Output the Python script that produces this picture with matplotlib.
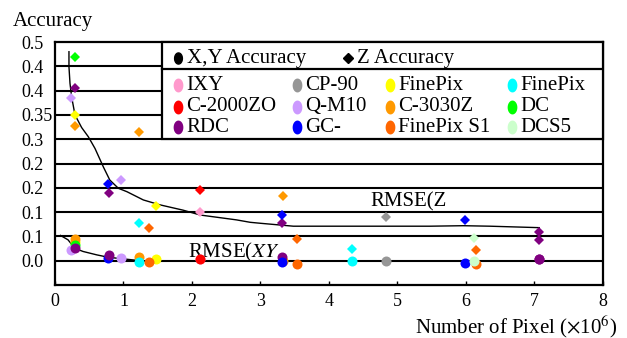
import matplotlib
matplotlib.use("Agg")
import matplotlib.pyplot as plt
import numpy as np
from matplotlib.path import Path
from matplotlib.patches import Rectangle

plt.rcParams['font.family'] = ['Liberation Serif', 'DejaVu Serif']
plt.rcParams['mathtext.fontset'] = 'stix'

# cameras shown in the legend
cam_names = ['IXY', 'CP-90', 'FinePix', 'FinePix', 'C-2000ZO', 'Q-M10',
             'C-3030Z', 'DC', 'RDC', 'GC-', 'FinePix S1', 'DCS5']
cam_colors = ['#FF99CC', '#969696', '#FFFF00', '#00FFFF', '#FF0000', '#CC99FF',
              '#FF9900', '#00FF00', '#800080', '#0000FF', '#FF6600', '#CCFFCC']

# one entry per camera measurement (drawing order matters for overlaps)
pt_cam = [2, 6, 7, 5, 8, 6, 9, 8, 5, 0, 4, 2, 3, 10, 6, 8, 9, 1, 10, 3, 9, 8, 8, 10, 11]
pt_pixels = [0.29, 0.29, 0.29, 0.23, 0.29, 1.23, 0.78, 0.79, 0.96, 2.11, 2.11, 1.48,
             1.23, 1.37, 3.33, 3.32, 3.32, 4.83, 3.54, 4.33, 5.99, 7.07, 7.07, 6.14, 6.11]
pt_xy_acc = [0.088, 0.094, 0.082, 0.072, 0.077, 0.057, 0.055, 0.062, 0.056, 0.053, 0.053, 0.053,
             0.047, 0.048, 0.050, 0.057, 0.047, 0.049, 0.043, 0.049, 0.046, 0.053, 0.053, 0.043, 0.049]
pt_z_acc = [0.349, 0.327, 0.469, 0.385, 0.406, 0.315, 0.208, 0.189, 0.217, 0.151, 0.195, 0.163,
            0.127, 0.118, 0.184, 0.127, 0.144, 0.139, 0.094, 0.075, 0.134, 0.110, 0.093, 0.073, 0.097]

# fitted RMSE curves
rmse_z_x = [0.204, 0.204, 0.219, 0.243, 0.292, 0.389, 0.487, 0.584, 0.706, 0.80, 0.925, 1.05,
            1.29, 1.53, 1.87, 2.12, 2.65, 2.85, 3.0, 3.48, 5.47, 5.96, 6.35, 7.07]
rmse_z_y = [0.48, 0.449, 0.415, 0.387, 0.35, 0.324, 0.305, 0.281, 0.243, 0.216, 0.199, 0.192,
            0.175, 0.165, 0.154, 0.144, 0.134, 0.129, 0.127, 0.121, 0.121, 0.122, 0.121, 0.118]
rmse_xy_x = [0.08, 0.19, 0.29, 0.41, 0.61, 0.78, 1.05, 1.24, 2.11, 3.3, 7.07]
rmse_xy_y = [0.102, 0.093, 0.0755, 0.069, 0.062, 0.057, 0.053, 0.050, 0.0495, 0.0495, 0.0495]

yticks = [0.05, 0.1, 0.15, 0.2, 0.25, 0.3, 0.35, 0.4, 0.45, 0.5]
ytick_labels = ['0.0', '0.1', '0.1', '0.2', '0.2', '0.3', '0.35', '0.4', '0.4', '0.5']

fig = plt.figure(figsize=(6.27, 3.38), dpi=100)
ax = fig.add_axes([0.0877, 0.1568, 0.8740, 0.7189])
ax.set_xlim(0, 8)
ax.set_ylim(0, 0.5)

ax.set_yticks(yticks)
ax.set_yticklabels(ytick_labels)
ax.set_xticks(range(9))
ax.tick_params(axis='y', length=0, pad=24.5, labelsize=13)
ax.tick_params(axis='x', direction='in', length=3, width=1, pad=6, labelsize=13)
for lab in ax.get_yticklabels():
    lab.set_ha('left')
for s in ax.spines.values():
    s.set_linewidth(1.6)
for y in yticks[:-1]:
    ax.axhline(y, color='black', lw=1.5, zorder=1)

ax.plot(rmse_z_x, rmse_z_y, color='black', lw=1.0, zorder=2)
ax.plot(rmse_xy_x, rmse_xy_y, color='black', lw=1.0, zorder=2)

for c, x, z in zip(pt_cam, pt_pixels, pt_z_acc):
    ax.plot(x, z, 'D', color=cam_colors[c], ms=5, mew=0, zorder=3)
for c, x, xy in zip(pt_cam, pt_pixels, pt_xy_acc):
    ax.plot(x, xy, 'o', color=cam_colors[c], ms=7.2, mew=0, zorder=4)

ax.text(4.6, 0.161, 'RMSE(Z', fontsize=15, zorder=2)
t = ax.text(1.94, 0.0556, r'RMSE($\mathit{XY}$', fontsize=15, zorder=2)
clip = Rectangle((0, 0.0617), 8, 0.5, transform=ax.transData, visible=False)
ax.add_patch(clip)
t.set_clip_path(clip)

# legend box drawn by hand
th = np.linspace(0, 2 * np.pi, 60)
ellipse = Path(np.column_stack([0.7 * np.cos(th), np.sin(th)]), closed=True)
x0, y_sep, y_bot = 0.195, 0.889, 0.602
ax.add_patch(Rectangle((x0, y_bot), 1 - x0, 1 - y_bot, transform=ax.transAxes,
                       facecolor='white', edgecolor='black', lw=1.6, zorder=6, clip_on=False))
ax.plot([x0, 1], [y_sep, y_sep], transform=ax.transAxes, color='black', lw=1.6, zorder=7)

ax.plot(0.2245, 0.934, marker=ellipse, color='black', ms=8, transform=ax.transAxes, zorder=8)
ax.text(0.241, 0.934, 'X,Y Accuracy', transform=ax.transAxes, fontsize=15, va='center', zorder=8)
ax.plot(0.535, 0.934, 'D', color='black', ms=5, transform=ax.transAxes, zorder=8)
ax.text(0.551, 0.934, 'Z Accuracy', transform=ax.transAxes, fontsize=15, va='center', zorder=8)

col_x = [0.2245, 0.441, 0.611, 0.834]
row_y = [0.823, 0.733, 0.650]
for i, (name, col) in enumerate(zip(cam_names, cam_colors)):
    cx = col_x[i % 4]
    cy = row_y[i // 4]
    ax.plot(cx, cy, marker=ellipse, color=col, ms=10, mew=0, transform=ax.transAxes, zorder=8)
    ax.text(cx + 0.015, cy, name, transform=ax.transAxes, fontsize=15, va='center', zorder=8)

fig.text(13 / 627, 1 - 26 / 338, 'Accuracy', fontsize=15, va='baseline')
fig.text(617 / 627, 1 - 333 / 338, r'Number of Pixel ($\times$10$^{6}$)', fontsize=15,
         ha='right', va='baseline')

fig.savefig('out.png', dpi=100)
